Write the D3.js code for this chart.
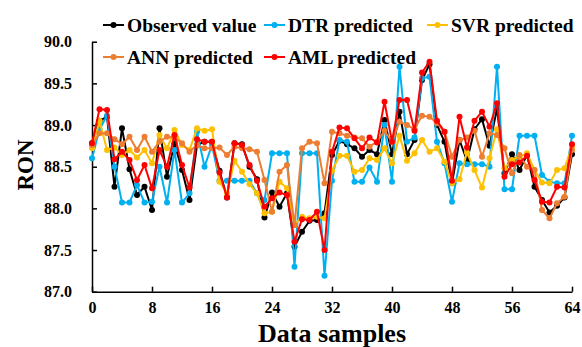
<!DOCTYPE html>
<html>
<head>
<meta charset="utf-8">
<script src="https://cdn.jsdelivr.net/npm/d3@7"></script>
<style>
  body { margin: 0; background: #fff; }
  svg text { font-family: "Liberation Serif", "Times New Roman", serif; font-weight: bold; }
</style>
</head>
<body>
<svg id="chart" width="582" height="347"></svg>
<script>
const observed = [88.78, 89.05, 89.1, 88.26, 88.96, 88.47, 88.16, 88.26, 87.98, 88.96,
  88.38, 88.78, 88.46, 88.1, 88.76, 88.8, 88.8, 88.45, 88.13, 88.78,
  88.77, 88.5, 88.35, 87.89, 88.19, 88.02, 88.18, 87.54, 87.72, 87.85,
  87.86, 87.94, 88.64, 88.81, 88.77, 88.72, 88.62, 88.7, 88.65, 89.06,
  88.65, 89.16, 88.65, 88.82, 89.54, 89.73, 89.0, 88.8, 88.3, 88.82,
  88.57, 88.95, 89.07, 88.75, 89.2, 88.42, 88.65, 88.46, 88.64, 88.26,
  88.1, 87.95, 88.03, 88.13, 88.65];
const dtr = [88.6, 88.95, 89.11, 88.5, 88.07, 88.07, 88.28, 88.07, 88.08, 88.5,
  88.07, 88.7, 88.07, 88.18, 88.92, 88.5, 88.76, 88.33, 88.33, 88.33,
  88.33, 88.33, 88.18, 88.1, 88.66, 88.66, 88.66, 87.3, 88.66, 88.66,
  88.66, 87.19, 88.33, 88.82, 88.8, 88.32, 88.32, 88.49, 88.32, 89.0,
  88.32, 89.7, 88.8, 88.85, 89.56, 89.58, 88.8, 88.54, 88.08, 88.54,
  88.53, 88.53, 88.53, 88.5, 89.7, 88.23, 88.23, 88.87, 88.87, 88.87,
  88.4, 88.32, 88.3, 88.3, 88.87];
const svr = [88.72, 89.05, 88.7, 88.73, 88.64, 88.7, 88.61, 88.7, 88.54, 88.88,
  88.72, 88.94, 88.76, 88.7, 88.96, 88.93, 88.95, 88.32, 88.18, 88.57,
  88.44, 88.29, 88.18, 87.94, 87.96, 88.32, 88.24, 87.8, 87.9, 87.88,
  87.9, 87.88, 88.45, 88.63, 88.63, 88.44, 88.46, 88.6, 88.58, 88.72,
  88.54, 88.87, 88.57, 88.66, 88.82, 88.68, 88.72, 88.56, 88.3, 88.35,
  88.67, 88.46, 88.25, 88.6, 88.95, 88.48, 88.58, 88.62, 88.66, 88.46,
  88.31, 88.3, 88.46, 88.48, 88.74];
const ann = [88.76, 88.9, 88.9, 88.83, 88.77, 88.86, 88.7, 88.86, 88.68, 88.8,
  88.86, 88.85, 88.78, 88.68, 88.76, 88.72, 88.72, 88.73, 88.64, 88.74,
  88.72, 88.71, 88.68, 88.34, 87.96, 88.44, 88.52, 87.8, 88.72, 88.8,
  88.78, 88.3, 88.92, 88.9, 88.87, 88.85, 88.84, 88.74, 88.8, 88.93,
  88.8, 89.04, 89.0, 88.95, 89.11, 89.1, 89.02, 88.92, 88.62, 88.82,
  88.85, 88.93, 88.62, 88.9, 88.88, 88.72, 88.42, 88.64, 88.5, 88.46,
  87.98, 87.88, 88.06, 88.14, 88.7];
const aml = [88.78, 89.19, 89.18, 88.59, 88.68, 88.58, 88.34, 88.52, 88.24, 88.7,
  88.5, 88.88, 88.52, 88.25, 88.83, 88.8, 88.8, 88.43, 88.13, 88.78,
  88.76, 88.52, 88.33, 88.02, 88.12, 88.19, 88.16, 87.6, 87.87, 87.86,
  87.96, 87.5, 88.68, 88.97, 88.96, 88.84, 88.72, 88.85, 88.79, 89.28,
  88.8, 89.3, 89.3, 88.93, 89.63, 89.76, 89.05, 88.92, 88.33, 89.1,
  88.73, 89.05, 89.16, 88.98, 89.26, 88.38, 88.53, 88.55, 88.63, 88.34,
  88.08, 88.07, 88.26, 88.25, 88.77];

const seriesNames = ["Observed value", "DTR predicted", "SVR predicted", "ANN predicted", "AML predicted"];
const seriesColors = ["#000000", "#00b0f0", "#ffc000", "#ed7d31", "#ff0000"];
const xTicks = [0, 8, 16, 24, 32, 40, 48, 56, 64];
const yTicks = [87.0, 87.5, 88.0, 88.5, 89.0, 89.5, 90.0];

const svg = d3.select("#chart");
const plotLeft = 92, plotRight = 572, plotTop = 41.7, plotBottom = 291.7;

const x = d3.scaleLinear().domain([0, 64]).range([plotLeft, plotRight]);
const y = d3.scaleLinear().domain([87, 90]).range([plotBottom, plotTop]);

const allSeries = [observed, dtr, svr, ann, aml];

// axes
const xAxis = svg.append("g")
  .attr("transform", `translate(0,${plotBottom})`)
  .call(d3.axisBottom(x).tickValues(xTicks).tickSizeInner(-5).tickSizeOuter(0).tickPadding(10));
const yAxis = svg.append("g")
  .attr("transform", `translate(${plotLeft},0)`)
  .call(d3.axisLeft(y).tickValues(yTicks).tickFormat(d3.format(".1f")).tickSizeInner(-5).tickSizeOuter(0).tickPadding(20));

[xAxis, yAxis].forEach(g => {
  g.select(".domain").attr("stroke", "#000").attr("stroke-width", 1.5);
  g.selectAll(".tick line").attr("stroke", "#000").attr("stroke-width", 1.5);
  g.selectAll(".tick text")
    .attr("fill", "#000")
    .style("font-size", "16px")
    .style("font-family", "'Liberation Serif', serif")
    .style("font-weight", "bold");
});

// lines
const line = d3.line()
  .x((d, i) => x(i))
  .y(d => y(d));

allSeries.forEach((data, k) => {
  const g = svg.append("g");
  g.append("path")
    .datum(data)
    .attr("fill", "none")
    .attr("stroke", seriesColors[k])
    .attr("stroke-width", 2)
    .attr("d", line);
  g.selectAll("circle")
    .data(data)
    .enter()
    .append("circle")
    .attr("cx", (d, i) => x(i))
    .attr("cy", d => y(d))
    .attr("r", 3)
    .attr("fill", seriesColors[k]);
});

// axis titles
svg.append("text")
  .attr("x", 332)
  .attr("y", 342)
  .attr("text-anchor", "middle")
  .style("font-size", "26px")
  .text("Data samples");

svg.append("text")
  .attr("transform", "translate(33,165) rotate(-90)")
  .attr("text-anchor", "middle")
  .style("font-size", "23px")
  .text("RON");

// legend
const legendPos = [[103, 25], [264, 25], [427, 25], [103, 57], [264, 57]];
seriesNames.forEach((name, k) => {
  const [lx, ly] = legendPos[k];
  const g = svg.append("g").attr("transform", `translate(${lx},${ly})`);
  g.append("line")
    .attr("x1", 0).attr("x2", 21)
    .attr("y1", 0).attr("y2", 0)
    .attr("stroke", seriesColors[k])
    .attr("stroke-width", 2);
  g.append("circle")
    .attr("cx", 10.5).attr("cy", 0).attr("r", 3)
    .attr("fill", seriesColors[k]);
  g.append("text")
    .attr("x", 24)
    .attr("y", 0)
    .attr("dy", "0.35em")
    .style("font-size", "19.5px")
    .text(name);
});
</script>
</body>
</html>
